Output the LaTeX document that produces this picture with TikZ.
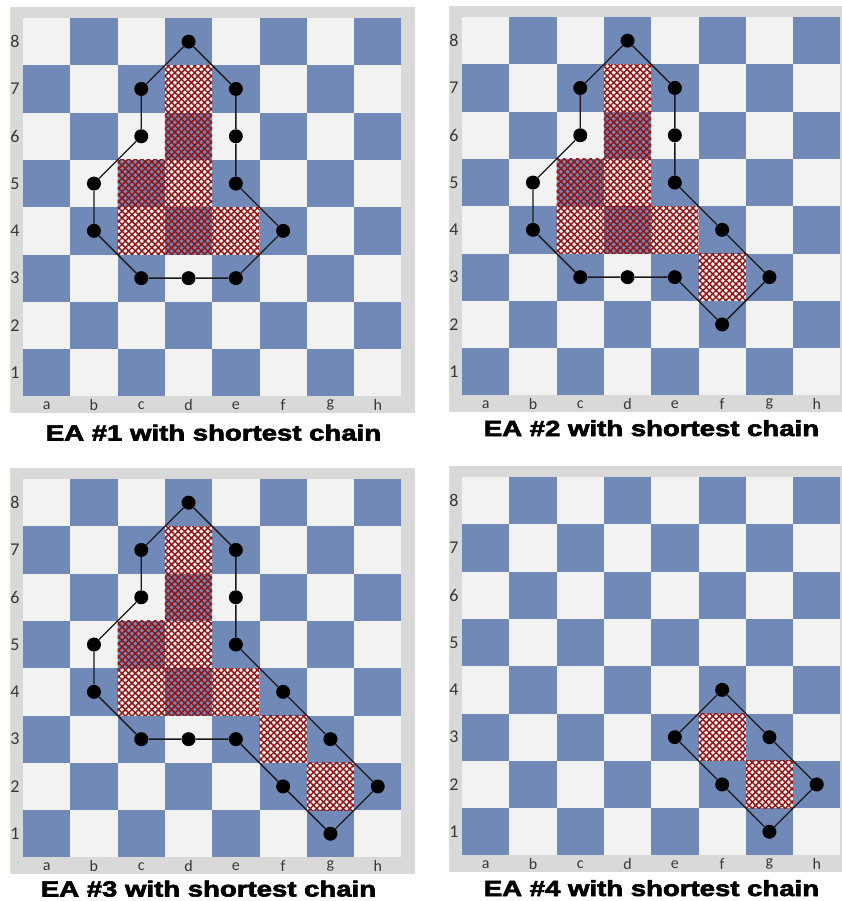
\documentclass[tikz,border=0pt]{standalone}
\usepackage{fontspec}
\usepackage{graphicx}
\setmainfont{Liberation Sans}
\newfontfamily\coordfont{Carlito}
\newfontfamily\capfont[FakeBold=2.6]{Liberation Sans Bold}
\usetikzlibrary{patterns.meta}
\definecolor{boardblue}{RGB}{113,137,183}
\definecolor{boardlight}{RGB}{242,242,242}
\definecolor{framegray}{RGB}{217,217,217}
\definecolor{frameedge}{RGB}{228,223,208}
\definecolor{labelgray}{RGB}{55,55,55}
\definecolor{hatchred}{RGB}{150,18,18}
\newcommand{\sqsize}{47.3}
\newcommand{\sqhalf}{23.65}

% frame, squares, file/rank labels; #1 = prefix of the square coordinates
\newcommand{\drawboard}[1]{%
  \fill[framegray] (-13,-11) rectangle (392,395);
  \draw[frameedge, line width=1pt] (-12.5,-11) -- (-12.5,395);
  \foreach \f [count=\i] in {a,b,c,d,e,f,g,h} {
    \foreach \r in {1,...,8} {
      \pgfmathtruncatemacro{\parity}{mod(\i+\r,2)}
      \ifnum\parity=0 \def\sqcol{boardblue}\else\def\sqcol{boardlight}\fi
      \fill[\sqcol] ({(\i-1)*\sqsize},{(8-\r)*\sqsize}) rectangle ++(\sqsize,\sqsize);
      \coordinate (#1\f\r) at ({(\i-0.5)*\sqsize},{(8.5-\r)*\sqsize});
    }
    \node[filelabel] (#1file\f) at ({(\i-0.5)*\sqsize},{8*\sqsize+9}) {\f};
    \node[ranklabel] (#1rank\i) at (-8,{(8.5-\i)*\sqsize}) {\i};
  }%
}
\newcommand{\hatchsq}[1]{%
  \fill[hatch] ([shift={(-\sqhalf,-\sqhalf)}]#1) rectangle ([shift={(\sqhalf,\sqhalf)}]#1);}

\begin{document}
\begin{tikzpicture}[
  x=0.75pt, y=-0.75pt,
  filelabel/.style={font=\coordfont\fontsize{12}{13}\selectfont, text=labelgray, inner sep=0pt},
  ranklabel/.style={font=\coordfont\fontsize{13.5}{14}\selectfont, text=labelgray, inner sep=0pt},
  hatch/.style={pattern={Lines[angle=45,distance=3.5pt,line width=1.1pt]}, pattern color=hatchred,
    postaction={pattern={Lines[angle=-45,distance=3.5pt,line width=1.1pt]}, pattern color=hatchred}},
  chaindot/.style={circle, fill=black, inner sep=0pt, minimum size=10.5pt},
  chain/.style={draw=black!90, line width=1pt},
  caption/.style={font=\capfont\fontsize{16.4}{18}\selectfont, inner sep=0pt, anchor=base},
]
  \useasboundingbox (0,0) rectangle (842,901);
  \clip (0,0) rectangle (842,901);
  \fill[white] (0,0) rectangle (842,901);

  % EA #1
  \begin{scope}[shift={(23,18)}]
    \drawboard{A}
  \end{scope}
  \foreach \p in {d7,d6,c5,d5,c4,d4,e4} {\hatchsq{A\p}}
  \foreach \p in {d8,c7,c6,b5,b4,c3,d3,e3,f4,e5,e6,e7}
    \node[chaindot] (dotA\p) at (A\p) {};
  \draw[chain] (dotAd8) -- (dotAc7) -- (dotAc6) -- (dotAb5) -- (dotAb4) -- (dotAc3) -- (dotAd3)
    -- (dotAe3) -- (dotAf4) -- (dotAe5) -- (dotAe6) -- (dotAe7) -- (dotAd8);
  \node[caption] (capA) at (213.5,440.5) {\scalebox{1.26}[1]{EA \#1 with shortest chain}};

  % EA #2
  \begin{scope}[shift={(462,17)}]
    \drawboard{B}
  \end{scope}
  \foreach \p in {d7,d6,c5,d5,c4,d4,e4,f3} {\hatchsq{B\p}}
  \foreach \p in {d8,c7,c6,b5,b4,c3,d3,e3,f2,g3,f4,e5,e6,e7}
    \node[chaindot] (dotB\p) at (B\p) {};
  \draw[chain] (dotBd8) -- (dotBc7) -- (dotBc6) -- (dotBb5) -- (dotBb4) -- (dotBc3) -- (dotBd3)
    -- (dotBe3) -- (dotBf2) -- (dotBg3) -- (dotBf4) -- (dotBe5) -- (dotBe6) -- (dotBe7) -- (dotBd8);
  \node[caption] (capB) at (651.5,436) {\scalebox{1.26}[1]{EA \#2 with shortest chain}};

  % EA #3
  \begin{scope}[shift={(23,479)}]
    \drawboard{C}
  \end{scope}
  \foreach \p in {d7,d6,c5,d5,c4,d4,e4,f3,g2} {\hatchsq{C\p}}
  \foreach \p in {d8,c7,c6,b5,b4,c3,d3,e3,f2,g1,h2,g3,f4,e5,e6,e7}
    \node[chaindot] (dotC\p) at (C\p) {};
  \draw[chain] (dotCd8) -- (dotCc7) -- (dotCc6) -- (dotCb5) -- (dotCb4) -- (dotCc3) -- (dotCd3)
    -- (dotCe3) -- (dotCf2) -- (dotCg1) -- (dotCh2) -- (dotCg3) -- (dotCf4) -- (dotCe5)
    -- (dotCe6) -- (dotCe7) -- (dotCd8);
  \node[caption] (capC) at (208.5,896.5) {\scalebox{1.26}[1]{EA \#3 with shortest chain}};

  % EA #4
  \begin{scope}[shift={(462,477)}]
    \drawboard{D}
  \end{scope}
  \foreach \p in {f3,g2} {\hatchsq{D\p}}
  \foreach \p in {f4,e3,f2,g1,h2,g3}
    \node[chaindot] (dotD\p) at (D\p) {};
  \draw[chain] (dotDf4) -- (dotDe3) -- (dotDf2) -- (dotDg1) -- (dotDh2) -- (dotDg3) -- (dotDf4);
  \node[caption] (capD) at (651.5,896) {\scalebox{1.26}[1]{EA \#4 with shortest chain}};
\end{tikzpicture}
\end{document}
